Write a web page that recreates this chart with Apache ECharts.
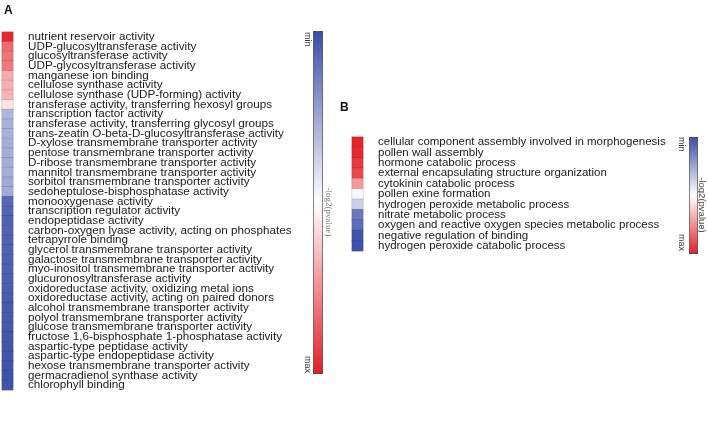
<!DOCTYPE html>
<html>
<head>
<meta charset="utf-8">
<script src="https://cdn.jsdelivr.net/npm/echarts@6/dist/echarts.min.js"></script>
<style>html,body{margin:0;padding:0;background:#fff;}#c{width:708px;height:421px;}</style>
</head>
<body>
<div id="c"></div>
<script>
var termsA = [
  "nutrient reservoir activity",
  "UDP-glucosyltransferase activity",
  "glucosyltransferase activity",
  "UDP-glycosyltransferase activity",
  "manganese ion binding",
  "cellulose synthase activity",
  "cellulose synthase (UDP-forming) activity",
  "transferase activity, transferring hexosyl groups",
  "transcription factor activity",
  "transferase activity, transferring glycosyl groups",
  "trans-zeatin O-beta-D-glucosyltransferase activity",
  "D-xylose transmembrane transporter activity",
  "pentose transmembrane transporter activity",
  "D-ribose transmembrane transporter activity",
  "mannitol transmembrane transporter activity",
  "sorbitol transmembrane transporter activity",
  "sedoheptulose-bisphosphatase activity",
  "monooxygenase activity",
  "transcription regulator activity",
  "endopeptidase activity",
  "carbon-oxygen lyase activity, acting on phosphates",
  "tetrapyrrole binding",
  "glycerol transmembrane transporter activity",
  "galactose transmembrane transporter activity",
  "myo-inositol transmembrane transporter activity",
  "glucuronosyltransferase activity",
  "oxidoreductase activity, oxidizing metal ions",
  "oxidoreductase activity, acting on paired donors",
  "alcohol transmembrane transporter activity",
  "polyol transmembrane transporter activity",
  "glucose transmembrane transporter activity",
  "fructose 1,6-bisphosphate 1-phosphatase activity",
  "aspartic-type peptidase activity",
  "aspartic-type endopeptidase activity",
  "hexose transmembrane transporter activity",
  "germacradienol synthase activity",
  "chlorophyll binding"
];
var valuesA = [9.8, 8.3, 8.1, 8.0, 6.9, 6.8, 6.7, 5.6, 2.9, 2.8, 2.8, 2.7, 2.7, 2.7, 2.7, 2.6, 2.6,
  0.7, 0.65, 0.6, 0.6, 0.55, 0.55, 0.5, 0.5, 0.45, 0.45, 0.4, 0.35, 0.3, 0.3, 0.25, 0.2, 0.2, 0.15, 0.1, 0.1];

var termsB = [
  "cellular component assembly involved in morphogenesis",
  "pollen wall assembly",
  "hormone catabolic process",
  "external encapsulating structure organization",
  "cytokinin catabolic process",
  "pollen exine formation",
  "hydrogen peroxide metabolic process",
  "nitrate metabolic process",
  "oxygen and reactive oxygen species metabolic process",
  "negative regulation of binding",
  "hydrogen peroxide catabolic process"
];
var valuesB = [9.9, 9.8, 9.4, 9.1, 7.3, 4.8, 3.7, 1.2, 0.9, 0.2, 0.1];

var colorRange = ['#3b4ea8', '#ffffff', '#e41f26'];

var chart = echarts.init(document.getElementById('c'));
var font = 'Liberation Sans, Arial, Helvetica, sans-serif';

function cat(arr){ return arr.map(function(v,i){ return [0, i, v]; }); }

chart.setOption({
  animation: false,
  backgroundColor: '#fff',
  grid: [
    {left: 2, top: 32, width: 11, height: 358},
    {left: 352, top: 137, width: 11, height: 114}
  ],
  xAxis: [
    {type: 'category', gridIndex: 0, data: [''], show: false},
    {type: 'category', gridIndex: 1, data: [''], show: false}
  ],
  yAxis: [
    {type: 'category', gridIndex: 0, data: termsA, inverse: true, position: 'right',
     axisLine: {show: false}, axisTick: {show: false}, splitLine: {show: false},
     axisLabel: {interval: 0, margin: 15, fontSize: 11.7, color: '#1a1a1a', fontFamily: font}},
    {type: 'category', gridIndex: 1, data: termsB, inverse: true, position: 'right',
     axisLine: {show: false}, axisTick: {show: false}, splitLine: {show: false},
     axisLabel: {interval: 0, margin: 15, fontSize: 11.5, color: '#1a1a1a', fontFamily: font}}
  ],
  visualMap: [
    {type: 'continuous', seriesIndex: 0, min: 0, max: 10, inverse: true, calculable: false,
     left: 313, top: 31, itemWidth: 9, itemHeight: 342, padding: 0, text: null,
     borderColor: '#333', borderWidth: 1, hoverLink: false,
     inRange: {color: colorRange}},
    {type: 'continuous', seriesIndex: 1, min: 0, max: 10, inverse: true, calculable: false,
     left: 689, top: 137, itemWidth: 8, itemHeight: 116, padding: 0, text: null,
     borderColor: '#333', borderWidth: 1, hoverLink: false,
     inRange: {color: colorRange}}
  ],
  series: [
    {type: 'heatmap', xAxisIndex: 0, yAxisIndex: 0, data: cat(valuesA),
     itemStyle: {borderColor: 'rgba(0,0,0,0.12)', borderWidth: 1}},
    {type: 'heatmap', xAxisIndex: 1, yAxisIndex: 1, data: cat(valuesB),
     itemStyle: {borderColor: 'rgba(0,0,0,0.12)', borderWidth: 1}}
  ],
  graphic: [
    {type: 'text', left: 4, top: 5, style: {text: 'A', font: 'bold 12px ' + font, fill: '#111'}},
    {type: 'text', left: 340, top: 102, style: {text: 'B', font: 'bold 12px ' + font, fill: '#111'}},
    {type: 'text', x: 312, y: 32, rotation: -Math.PI/2, style: {text: 'min', font: '9px ' + font, fill: '#333'}},
    {type: 'text', x: 312, y: 356, rotation: -Math.PI/2, style: {text: 'max', font: '9px ' + font, fill: '#333'}},
    {type: 'text', x: 328, y: 212, rotation: -Math.PI/2, style: {text: '-log2(pvalue)', font: '9px Liberation Serif, Times New Roman, serif', fill: '#777', align: 'center', verticalAlign: 'middle'}},
    {type: 'text', x: 686, y: 137, rotation: -Math.PI/2, style: {text: 'min', font: '9px ' + font, fill: '#333'}},
    {type: 'text', x: 686, y: 234, rotation: -Math.PI/2, style: {text: 'max', font: '9px ' + font, fill: '#333'}},
    {type: 'text', x: 702, y: 205, rotation: -Math.PI/2, style: {text: '-log2(pvalue)', font: '9.5px ' + font, fill: '#444', align: 'center', verticalAlign: 'middle'}}
  ]
});
</script>
</body>
</html>
